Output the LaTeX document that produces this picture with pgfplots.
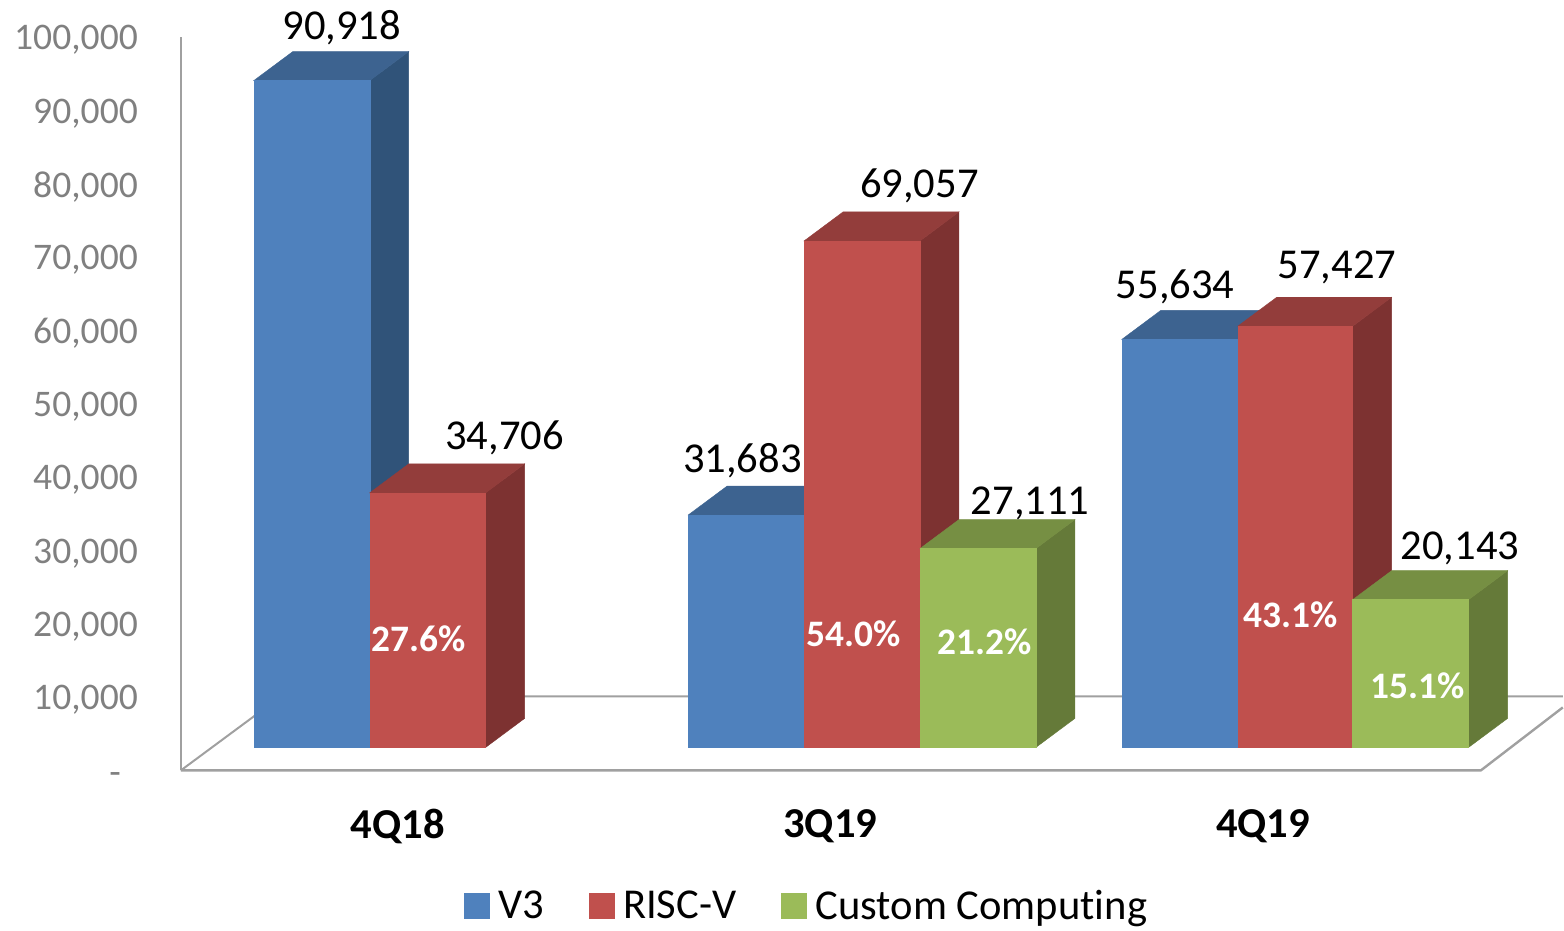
\documentclass[border=0pt]{standalone}
\usepackage{fontspec}
\setmainfont{Carlito}[Ligatures=NoCommon]
\usepackage{pgfplots}
\pgfplotsset{compat=1.18}

\definecolor{bluef}{HTML}{4F81BD}
\definecolor{bluet}{HTML}{3D6390}
\definecolor{blues}{HTML}{305379}
\definecolor{redf}{HTML}{C0504D}
\definecolor{redt}{HTML}{933D3B}
\definecolor{reds}{HTML}{7D3231}
\definecolor{greenf}{HTML}{9BBB59}
\definecolor{greent}{HTML}{768F43}
\definecolor{greens}{HTML}{657A39}
\definecolor{axisgray}{HTML}{A0A0A0}
\definecolor{ticktext}{HTML}{808080}

\newcommand{\lblsz}{\fontsize{21.3}{24}\selectfont}
\newcommand{\ticksz}{\fontsize{18.8}{22}\selectfont}
\newcommand{\pctsz}{\fontsize{18.7}{22}\selectfont\bfseries}

% x from, x to, value in thousands, colour stem: 1px = 0.5pt, y axis runs in thousands
\newcommand{\cube}[4]{%
  \pgfmathsetmacro\yb{3.134}%
  \pgfmathsetmacro\yt{3.134+#3}%
  \pgfmathsetmacro\yd{\yt+3.951}%
  \pgfmathsetmacro\ybd{\yb+3.951}%
  \pgfmathsetmacro\xa{#1+39}%
  \pgfmathsetmacro\xb{#2+39}%
  \edef\tmp{%
    \noexpand\addplot[fill=#4s,draw=#4s,line width=0.2pt,forget plot] coordinates {(#2,\yb) (\xb,\ybd) (\xb,\yd) (#2,\yt)} -- cycle;
    \noexpand\addplot[fill=#4t,draw=#4t,line width=0.2pt,forget plot] coordinates {(#1,\yt) (#2,\yt) (\xb,\yd) (\xa,\yd)} -- cycle;
    \noexpand\addplot[fill=#4f,draw=#4f,line width=0.2pt,forget plot] coordinates {(#1,\yb) (#2,\yb) (#2,\yt) (#1,\yt)} -- cycle;
  }\tmp}

% text at picture x and picture y (px from the top)
\newcommand{\lbl}[4]{%
  \pgfmathsetmacro\yy{(771-#2)/7.34}%
  \edef\tmp{\noexpand\node[text=#3,inner sep=0pt,anchor=center,yshift=-1.1pt] at (axis cs:#1,\yy) {\unexpanded{#4}};}\tmp}

\begin{document}
\begin{tikzpicture}
\begin{axis}[
  scale only axis,
  width=691.5pt, height=367pt,
  xmin=181, xmax=1564, ymin=0, ymax=100,
  clip=false,
  axis x line=bottom, axis y line=left,
  axis line style={-,draw=axisgray,line width=1.2pt},
  x axis line style={draw=none},
  major tick length=0pt,
  xtick={398,831,1264},
  xticklabels={4Q18,3Q19,4Q19},
  xticklabel style={font=\lblsz\bfseries,text=black,anchor=center},
  xticklabel shift=28pt,
  ytick={0,10,...,100},
  yticklabels={{\smash{\raisebox{-5.5pt}{-}}\kern8.5pt},{10,000},{20,000},{30,000},{40,000},{50,000},{60,000},{70,000},{80,000},{90,000},{100,000}},
  yticklabel style={font=\ticksz,text=ticktext,anchor=east,yshift=-1.5pt},
  yticklabel shift=18pt,
  legend style={at={(0.4534,-0.1853)},anchor=center,draw=none,fill=none,font=\lblsz,
    legend columns=3,/tikz/every even column/.append style={column sep=20.5pt}},
  legend cell align=left,
  legend image code/.code={\fill[#1] (0pt,-6pt) rectangle (12.5pt,6.5pt);\path[draw=none,fill=none] (0pt,0pt) -- (15pt,0pt);},
]
\addlegendimage{bluef}
\addlegendentry{V3}
\addlegendimage{redf}
\addlegendentry{RISC-V}
\addlegendimage{greenf}
\addlegendentry{Custom Computing}

% floor of the box
\addplot[axisgray,line width=1.2pt,forget plot] coordinates {(1564,8.583) (1482,0) (181,0)};
\addplot[axisgray,line width=1pt,forget plot] coordinates {(181,0) (281,10.082) (1564,10.082)};

\cube{254}{370}{90.918}{blue}
\cube{370}{486}{34.706}{red}

\cube{688.7}{804.7}{31.683}{blue}
\cube{804.7}{920.7}{69.057}{red}
\cube{920.7}{1036.7}{27.111}{green}

\cube{1122.7}{1238.7}{55.634}{blue}
\cube{1238.7}{1353.7}{57.427}{red}
\cube{1353.7}{1469.7}{20.143}{green}

\lbl{342}{26}{black}{\lblsz 90,918}
\lbl{505}{436}{black}{\lblsz 34,706}
\lbl{743}{459}{black}{\lblsz 31,683}
\lbl{920}{184}{black}{\lblsz 69,057}
\lbl{1031}{502}{black}{\lblsz 27,111}
\lbl{1176}{285}{black}{\lblsz 55,634}
\lbl{1338}{265}{black}{\lblsz 57,427}
\lbl{1461}{547}{black}{\lblsz 20,143}

\lbl{419}{637}{white}{\pctsz 27.6\%}
\lbl{854}{632}{white}{\pctsz 54.0\%}
\lbl{985}{640}{white}{\pctsz 21.2\%}
\lbl{1292}{613}{white}{\pctsz 43.1\%}
\lbl{1419}{684}{white}{\pctsz 15.1\%}

% page frame, same proportions as the reference
\path (axis cs:0,105.04) rectangle (axis cs:1564,-21.39);
\end{axis}
\end{tikzpicture}
\end{document}
